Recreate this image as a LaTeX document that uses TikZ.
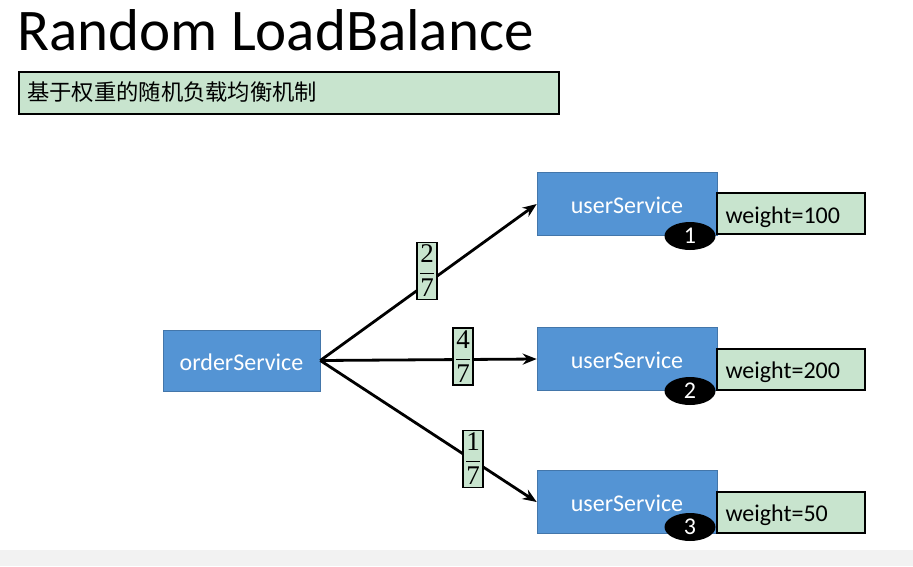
\documentclass[tikz,border=0pt]{standalone}
\usepackage{amsmath}
\usepackage{fontspec}
\setmainfont{Carlito}
\newfontfamily\cjk{Noto Sans CJK SC}
\newfontfamily\fracfont{Liberation Serif}
\usetikzlibrary{arrows.meta,shapes.geometric}
\definecolor{svcblue}{RGB}{84,148,212}
\definecolor{notegreen}{RGB}{200,228,206}
\tikzset{
  svc/.style={draw=svcblue!80!black, line width=0.6pt, fill=svcblue, text=white, minimum width=180pt, minimum height=63pt, inner sep=0pt, text height=19pt, text depth=0pt, font=\fontsize{24}{28}\selectfont},
  wbox/.style={draw=black, line width=2pt, fill=notegreen, minimum height=41pt, text width=130pt, align=left, inner xsep=9pt, inner ysep=0pt, text height=19pt, text depth=0pt, font=\fontsize{24}{28}\selectfont},
  badge/.style={ellipse, fill=black, text=white, minimum width=51pt, minimum height=28pt, inner sep=0pt, font=\fontsize{24}{26}\selectfont},
  frac/.style={draw=black, line width=1.6pt, fill=notegreen, minimum width=20pt, minimum height=57pt, inner sep=0pt, font=\fracfont\fontsize{27}{27}\selectfont},
  link/.style={line width=2.8pt, -{Stealth[length=14pt,width=11pt]}},
}
\begin{document}
\begin{tikzpicture}[x=1pt,y=-1pt]
\useasboundingbox (0,0) rectangle (913,566);
\fill[white] (0,0) rectangle (913,566);
\fill[black!5] (0,550) rectangle (913,566);
\node[anchor=base west, inner sep=0pt, font=\fontsize{59}{62}\selectfont] (title) at (17,50) {Random LoadBalance};
\node[draw=black, line width=2pt, fill=notegreen, anchor=north west, minimum width=540pt, minimum height=42pt, inner sep=0pt] (sub) at (18,71) {};
\node[anchor=west, inner sep=0pt, font=\cjk\fontsize{22.3}{26}\selectfont] (subt) at (27,92) {基于权重的随机负载均衡机制};
\node[svc, minimum width=157pt, minimum height=61pt] (o) at (241.5,360.5) {orderService};
\node[svc] (u1) at (627,204) {userService};
\node[svc] (u2) at (627,359) {userService};
\node[svc] (u3) at (627,502) {userService};
\node[wbox] (w1) at (790.5,213.5) {weight=100};
\node[wbox] (w2) at (790.5,369) {weight=200};
\node[wbox] (w3) at (790.5,512) {weight=50};
\node[badge] (b1) at (690,236) {1};
\node[badge] (b2) at (690,391) {2};
\node[badge] (b3) at (690,527) {3};
\draw[link] (o.east) -- (u1.west);
\draw[link] (o.east) -- (u2.west);
\draw[link] (o.east) -- (u3.west);
\node[frac] (f1) at (427,271) {$\dfrac{\text{2}}{\text{7}}$};
\node[frac] (f2) at (463,356.5) {$\dfrac{\text{4}}{\text{7}}$};
\node[frac] (f3) at (473,459) {$\dfrac{\text{1}}{\text{7}}$};
\end{tikzpicture}
\end{document}
